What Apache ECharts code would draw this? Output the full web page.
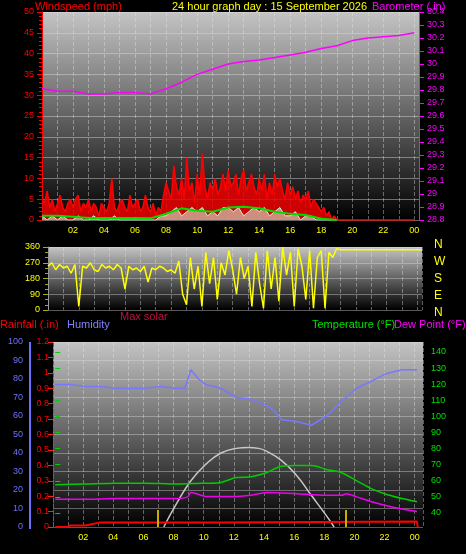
<!DOCTYPE html><html><head><meta charset="utf-8">
<script src="https://cdn.jsdelivr.net/npm/echarts@6/dist/echarts.min.js"></script>
<style>html,body{margin:0;background:#000}#c{width:466px;height:554px}</style></head><body><div id="c"></div>
<script>
var gust=[5,4,7,3,5,2,4,6,3,2,4,5, 3,5,6,2,4,3,5,2,4,3,1,4, 3,2,4,10,3,2,4,5,3,2,6,3, 4,5,2,3,6,3,2,4,1,3,2,6,
9,7,5,13,8,6,10,5,15,7,9,4, 11,6,16,8,5,9,7,10,6,8,11,7, 12,8,9,11,6,10,12,7,9,11,8,6, 10,7,11,5,9,6,11,8,10,7,5,9,
6,8,5,7,4,6,5,7,3,5,4,3, 2,3,1,2,0,1,0,0];
var windSpd=[1,0,1,0,1,0, 0,1,0,0,1,0, 0,0,1,0,0,0, 0,0,0,0,0,1, 1,2,3,1,2,3, 2,3,1,2,1,3, 3,2,3,1,2,3, 2,3,1,2,3,1, 1,2,0,1,1,0, 0,0,0];
var windAvg=[1,1,0.8,0.5,0.5,0.5,0.5,0.4,1.5,2.8,2.2,2,3,3.2,2.8,2,1.5,1.2,0.3,0];
var baro=[29.81,29.79,29.79,29.77,29.77,29.78,29.78,29.77,29.81,29.86,29.92,29.96,30.0,30.02,30.03,30.05,30.07,30.09,30.12,30.14,30.18,30.2,30.21,30.22,30.24];
var dir=[250,270,230,260,240,250,210,260, 20,250,240,270,230,220,260,240, 250,230,260,240,120,250,230,240, 220,250,160,240,230,250,240,220,
230,210,280,90,30,300,120,250, 20,330,150,300,60,270,200,340, 230,90,300,180,250,20,330,150, 10,340,120,300,50,360,200,330,
20,350,250,60,340,10,300,340, 10,330,300,350];
var dirLate=345;
var humH=[0,1,2,3,4,5,6,7,8,8.6,9,9.5,10,11,12,13,14,14.5,15,16,17,18,19,20,21,22,23,24];
var hum=[77,77,76,76,75,75,75,76,75,75,85,80,77,75,70,69,66,63,58,57,55,60,68,75,79,83,85,85];
var tmpH=[0,2,4,6,8,10,11,12,13,14,15,16,17,18,19,20,21,22,23,24];
var tmp=[57.5,58,58.5,58.5,58,58.5,59,62,62.5,65,69,69.5,69.5,67,65,60,55,51.5,49,47];
var dewH=[0,2,4,6,8,8.8,9,10,12,13,14,16,18,19,19.3,20,21,22,23,24];
var dew=[48.5,48.5,49,49,49,50,52.8,50.3,50.3,51,52.8,52,51,51,52,50,47,44.5,42.5,41];
var solH=[7.2,8,9,10,11,12,12.8,13.5,14,15,16,17,18,18.5];
var sol=[0,12,25,34,40,42.5,43,42.5,41,36,28,17,6,0];
var rainH=[0,0.8,1,2,2.1,3,11,11.1,24,24.05];
var rain=[0,0,0.01,0.01,0.02,0.03,0.03,0.035,0.035,0];
var sunMarks=[6.8,19.3];
var compass=['N','W','S','E','N'];

function pairs(a,step){return a.map(function(v,i){return [i*step,v];});}
function xy(h,v){return h.map(function(x,i){return [x,v[i]];});}
var bg={type:'linear',x:0,y:0,x2:0,y2:1,colorStops:[{offset:0,color:'#c4c4c4'},{offset:1,color:'#000'}]};
var hourFmt=function(v){var r=Math.round(v);if(r<=0||r%2)return '';var h=r%24;return (h<10?'0':'')+h;};
function xax(gi,min,max,lab,show){return {type:'value',gridIndex:gi,min:min,max:max,interval:1,show:show!==false,
 axisLine:{show:false},axisTick:{show:false},
 axisLabel:{show:lab,color:'#ffff00',fontSize:9,formatter:hourFmt,margin:6,showMinLabel:false},
 splitLine:{show:show!==false,lineStyle:{color:'rgba(230,230,230,0.4)',type:'dashed'}}};}
var dirLine=pairs(dir,0.25);dirLine.push([19,dirLate]);dirLine.push([24.3,dirLate]);
var gustLine=pairs(gust,1/6);gustLine.push([24,0]);
var spdLine=pairs(windSpd,1/3);
var F='11px "Liberation Sans"';
var option={backgroundColor:'#000',animation:false,
 graphic:[
  {type:'text',left:35,top:1,style:{text:'Windspeed (mph)',fill:'#ff0000',font:F}},
  {type:'text',left:172,top:1,style:{text:'24 hour graph day : 15 September 2026',fill:'#ffff00',font:F}},
  {type:'text',left:372,top:1,style:{text:'Barometer (.in)',fill:'#ff00ff',font:F}},
  {type:'text',left:0,top:319,style:{text:'Rainfall (.in)',fill:'#ff0000',font:F}},
  {type:'text',left:67,top:319,style:{text:'Humidity',fill:'#8080ff',font:F}},
  {type:'text',left:120,top:311,style:{text:'Max solar',fill:'#c01040',font:F}},
  {type:'text',left:312,top:319,style:{text:'Temperature (°F)',fill:'#00e000',font:F}},
  {type:'text',left:394,top:319,style:{text:'Dew Point (°F)',fill:'#ff00ff',font:F}},
  {type:'rect',left:29,top:342,shape:{width:2,height:187},style:{fill:'#7070ff'}}
 ].concat(compass.map(function(t,i){return {type:'text',left:434,top:239+i*17,style:{text:t,fill:'#ffff00',font:'12px "Liberation Sans"'}};})),
 grid:[
  {left:42,top:12,right:47,height:208,show:true,backgroundColor:bg,borderWidth:0},
  {left:48,top:247,right:44,height:63,show:true,backgroundColor:bg,borderWidth:0},
  {left:53,top:342,right:43,height:185,show:true,backgroundColor:bg,borderWidth:0},
  {left:53,top:352,right:43,height:161,show:false}],
 xAxis:[xax(0,0,24.3,true),xax(1,0,24.3,false),xax(2,-0.15,24.4,true),xax(3,-0.15,24.4,false,false)],
 yAxis:[
  {type:'value',gridIndex:0,min:0,max:50,interval:5,position:'left',axisLine:{show:true,lineStyle:{color:'#ff0000'}},
   axisTick:{show:true,lineStyle:{color:'#ff0000'}},minorTick:{show:true,splitNumber:5,lineStyle:{color:'#ff0000'}},minorSplitLine:{show:false},
   axisLabel:{color:'#ff0000',fontSize:9},splitLine:{lineStyle:{color:'rgba(220,220,220,0.45)'}}},
  {type:'value',gridIndex:0,min:28.8,max:30.4,splitNumber:16,position:'right',axisLine:{show:true,lineStyle:{color:'#ff00ff'}},
   axisTick:{show:true,lineStyle:{color:'#ff00ff'}},axisLabel:{color:'#ff00ff',fontSize:9,formatter:function(v){return +v.toFixed(1)+'';}},splitLine:{show:false}},
  {type:'value',gridIndex:1,min:0,max:360,interval:90,axisLine:{show:true,lineStyle:{color:'#999'}},
   axisTick:{show:true,lineStyle:{color:'#aa0'}},minorTick:{show:true,splitNumber:3,lineStyle:{color:'#aa0'}},
   axisLabel:{color:'#ffff00',fontSize:9},splitLine:{lineStyle:{color:'rgba(220,220,220,0.4)'}}},
  {type:'value',gridIndex:2,min:0,max:100,interval:10,position:'left',offset:22,axisLine:{show:false},
   axisTick:{show:false},axisLabel:{color:'#7070ff',fontSize:9},splitLine:{lineStyle:{color:'rgba(220,220,220,0.4)'}}},
  {type:'value',gridIndex:2,min:0,max:1.2,splitNumber:12,position:'left',axisLine:{show:true,lineStyle:{color:'#ff2020',type:'dashed'}},
   axisTick:{show:true,lineStyle:{color:'#ff2020'}},axisLabel:{color:'#ff0000',fontSize:9,margin:4,formatter:function(v){return +v.toFixed(1)+'';}},splitLine:{show:false}},
  {type:'value',gridIndex:3,min:40,max:140,interval:10,position:'right',offset:0,axisLine:{show:false},
   axisTick:{show:true,lineStyle:{color:'#00d000'}},axisLabel:{color:'#00e000',fontSize:9},splitLine:{show:false}}
 ],
 series:[
  {type:'line',xAxisIndex:0,yAxisIndex:0,data:gustLine,symbol:'none',lineStyle:{color:'#ff0000',width:1.5},areaStyle:{color:'#ee0000',opacity:0.85}},
  {type:'line',xAxisIndex:0,yAxisIndex:0,data:spdLine,symbol:'none',lineStyle:{color:'#d8f0d8',width:1},areaStyle:{color:'#d0ecd0',opacity:0.6}},
  {type:'line',xAxisIndex:0,yAxisIndex:0,data:pairs(windAvg,1),symbol:'none',lineStyle:{color:'#00dd00',width:2}},
  {type:'line',xAxisIndex:0,yAxisIndex:1,data:pairs(baro,1),symbol:'none',lineStyle:{color:'#ff00ff',width:1.5}},
  {type:'line',xAxisIndex:1,yAxisIndex:2,data:dirLine,symbol:'none',lineStyle:{color:'#ffff00',width:1.5}},
  {type:'line',xAxisIndex:2,yAxisIndex:3,data:xy(humH,hum),symbol:'none',lineStyle:{color:'#7878ff',width:1.5}},
  {type:'line',xAxisIndex:2,yAxisIndex:3,data:xy(solH,sol),symbol:'none',smooth:true,lineStyle:{color:'#c8c8c8',width:1.5}},
  {type:'line',xAxisIndex:3,yAxisIndex:5,data:xy(tmpH,tmp),symbol:'none',smooth:0.3,lineStyle:{color:'#00cc00',width:1.5}},
  {type:'line',xAxisIndex:3,yAxisIndex:5,data:xy(dewH,dew),symbol:'none',smooth:0.3,lineStyle:{color:'#ee00ee',width:1.5}},
  {type:'line',xAxisIndex:2,yAxisIndex:4,data:xy(rainH,rain),symbol:'none',lineStyle:{color:'#ff0000',width:2},
   markLine:{symbol:'none',silent:true,label:{show:false},lineStyle:{color:'#c8b000',width:2,type:'solid'},
    data:sunMarks.map(function(h){return [{coord:[h,0]},{coord:[h,0.11]}];})}}
 ]};
echarts.init(document.getElementById('c')).setOption(option);
</script></body></html>
